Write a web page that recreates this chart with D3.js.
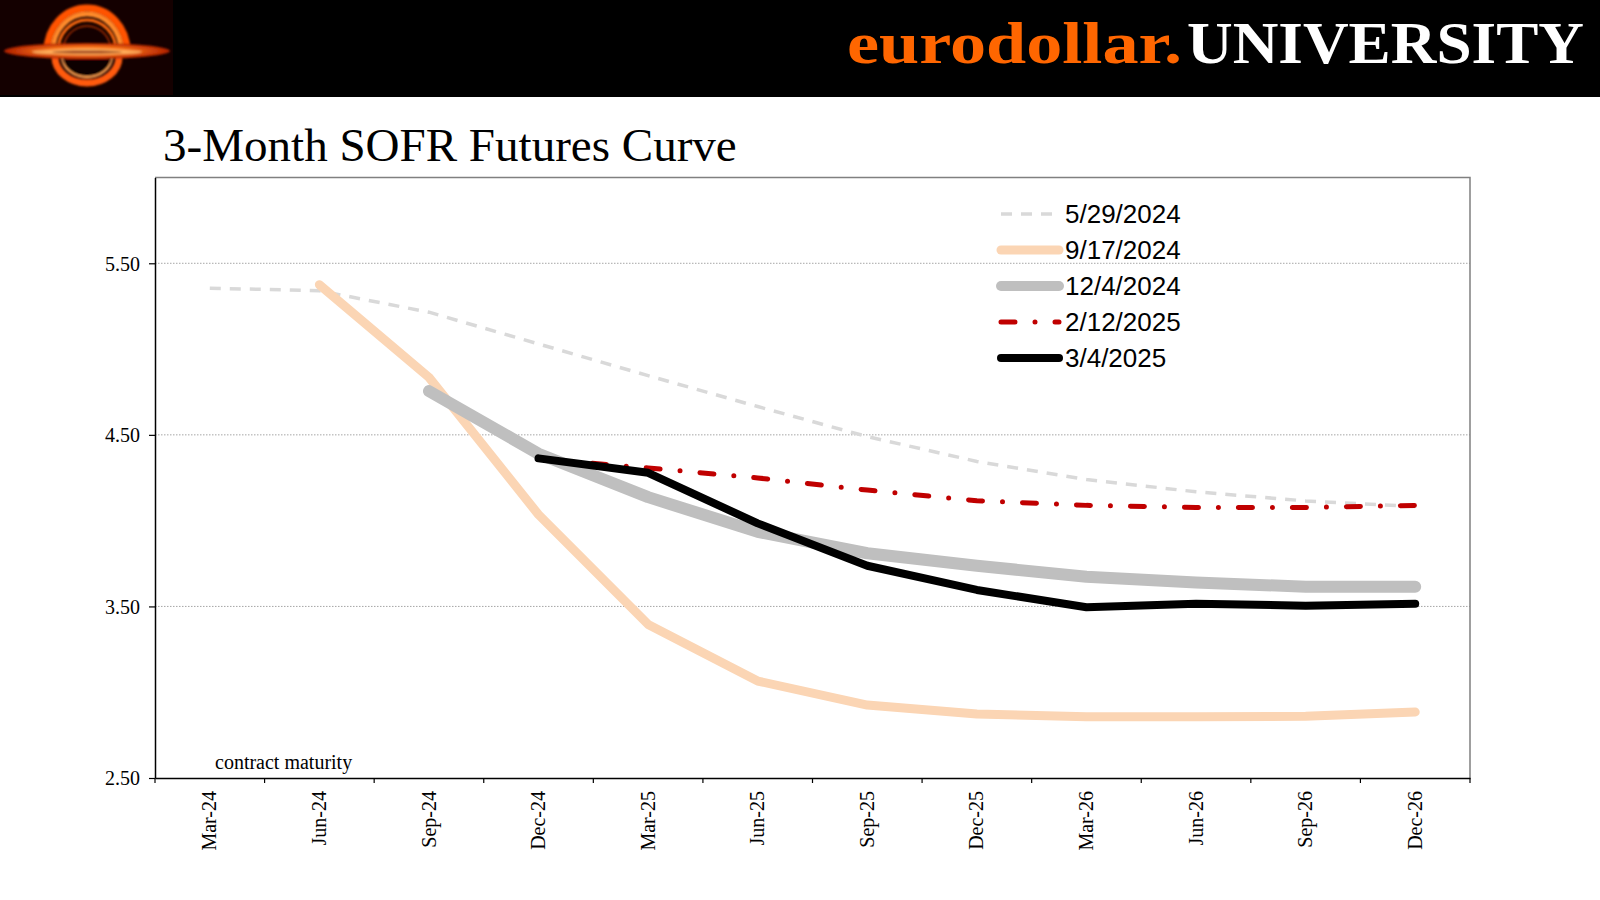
<!DOCTYPE html>
<html>
<head>
<meta charset="utf-8">
<script src="https://cdn.jsdelivr.net/npm/d3@7"></script>
<style>
  body { margin: 0; background: #fff; }
  svg { display: block; }
</style>
</head>
<body>
<div id="chart"></div>
<script>
// contract months on the x axis
const months = ["Mar-24", "Jun-24", "Sep-24", "Dec-24", "Mar-25", "Jun-25",
                "Sep-25", "Dec-25", "Mar-26", "Jun-26", "Sep-26", "Dec-26"];

// implied rates, one array per curve date (null = contract already expired)
const curve20240529 = [5.355, 5.340, 5.215, 5.030, 4.845, 4.665, 4.490, 4.345, 4.240, 4.168, 4.115, 4.082];
const curve20240917 = [null, 5.375, 4.835, 4.035, 3.395, 3.065, 2.925, 2.873, 2.857, 2.857, 2.860, 2.885];
const curve20241204 = [null, null, 4.755, 4.390, 4.137, 3.935, 3.810, 3.737, 3.673, 3.640, 3.615, 3.615];
const curve20250212 = [null, null, null, 4.360, 4.307, 4.249, 4.178, 4.116, 4.089, 4.077, 4.077, 4.089];
const curve20250304 = [null, null, null, 4.363, 4.279, 3.984, 3.737, 3.596, 3.495, 3.516, 3.504, 3.516];

const seriesNames = ["5/29/2024", "9/17/2024", "12/4/2024", "2/12/2025", "3/4/2025"];
const yTicks = [2.5, 3.5, 4.5, 5.5];

const series = [curve20240529, curve20240917, curve20241204, curve20250212, curve20250304]
    .map((values, i) => ({ name: seriesNames[i], values }));

// line looks (Excel-ish)
const looks = {
    "5/29/2024": { color: "#d9d9d9", width: 3.5, dash: "11,9", cap: "butt" },
    "9/17/2024": { color: "#fbd5b4", width: 9, dash: null, cap: "round" },
    "12/4/2024": { color: "#bfbfbf", width: 12, dash: null, cap: "round" },
    "2/12/2025": { color: "#c00000", width: 5, dash: "14,20,0,20", cap: "round" },
    "3/4/2025":  { color: "#000000", width: 8, dash: null, cap: "round" }
};

const width = 1600;
const height = 900;
const margin = { top: 177.5, right: 130, bottom: 122, left: 155 };

const svg = d3.select("#chart").append("svg")
    .attr("width", width)
    .attr("height", height);

const defs = svg.append("defs");

// ---- header band ----
svg.append("rect")
    .attr("width", width)
    .attr("height", 97)
    .attr("fill", "#000");

// logo: stylised black hole
const glow = defs.append("filter").attr("id", "glow")
    .attr("x", "-20%").attr("y", "-20%").attr("width", "140%").attr("height", "140%");
glow.append("feGaussianBlur").attr("stdDeviation", 1.3);

const discGrad = defs.append("radialGradient").attr("id", "disc");
discGrad.append("stop").attr("offset", "0%").attr("stop-color", "#ffd080");
discGrad.append("stop").attr("offset", "45%").attr("stop-color", "#ff7a1a");
discGrad.append("stop").attr("offset", "100%").attr("stop-color", "#b02000");

const logo = svg.append("g");
logo.append("rect").attr("width", 173).attr("height", 95).attr("fill", "#140000");

const cx = 87, cy = 51;
const g = logo.append("g").attr("filter", "url(#glow)");

// upper arch
[{ rx: 40, ry: 43, w: 7, c: "#ff5200" },
 { rx: 34, ry: 37, w: 5, c: "#ff8a2a" },
 { rx: 29, ry: 31, w: 3, c: "#ff6a10" },
 { rx: 24, ry: 25, w: 1.5, c: "#a83000" }].forEach(r => {
    g.append("path")
        .attr("d", `M${cx - r.rx},${cy} A${r.rx},${r.ry} 0 0 1 ${cx + r.rx},${cy}`)
        .attr("fill", "none")
        .attr("stroke", r.c)
        .attr("stroke-width", r.w);
});

// lower ring
g.append("ellipse").attr("cx", cx).attr("cy", 62).attr("rx", 22).attr("ry", 17).attr("fill", "#0a0000");
[{ rx: 32, ry: 26, w: 7, c: "#ff5a10" },
 { rx: 25, ry: 20, w: 2, c: "#ffa050" }].forEach(r => {
    g.append("path")
        .attr("d", `M${cx - r.rx},${cy + 6} A${r.rx},${r.ry} 0 0 0 ${cx + r.rx},${cy + 6}`)
        .attr("fill", "none")
        .attr("stroke", r.c)
        .attr("stroke-width", r.w);
});

// accretion disc
g.append("ellipse").attr("cx", cx).attr("cy", cy).attr("rx", 83).attr("ry", 8).attr("fill", "url(#disc)");
g.append("ellipse").attr("cx", cx).attr("cy", cy + 1).attr("rx", 55).attr("ry", 3).attr("fill", "#ffb868").attr("opacity", 0.8);
g.append("ellipse").attr("cx", cx).attr("cy", cy + 1).attr("rx", 35).attr("ry", 1.5).attr("fill", "#7a1800").attr("opacity", 0.7);

// brand text, two pieces fitted to the widths seen in the original
const brandFont = "'Liberation Serif', 'Times New Roman', serif";
svg.append("text")
    .attr("x", 847)
    .attr("y", 63)
    .attr("textLength", 335)
    .attr("lengthAdjust", "spacingAndGlyphs")
    .style("font-family", brandFont)
    .style("font-weight", "bold")
    .style("font-size", "59px")
    .attr("fill", "#ff6600")
    .text("eurodollar.");
svg.append("text")
    .attr("x", 1187)
    .attr("y", 63)
    .attr("textLength", 397)
    .attr("lengthAdjust", "spacingAndGlyphs")
    .style("font-family", brandFont)
    .style("font-weight", "bold")
    .style("font-size", "59px")
    .attr("fill", "#ffffff")
    .text("UNIVERSITY");

// chart title
const title = svg.append("text")
    .attr("x", 163)
    .attr("y", 161)
    .style("font-family", brandFont)
    .style("font-size", "47px")
    .attr("fill", "#000")
    .text("3-Month SOFR Futures Curve");
const tw = title.node().getComputedTextLength();
title.style("font-size", (47 * 574 / tw) + "px");

// ---- scales ----
const x = d3.scaleBand()
    .domain(months)
    .range([margin.left, width - margin.right]);

const y = d3.scaleLinear()
    .domain([2.5, 6.0])
    .range([height - margin.bottom, margin.top]);

const xc = m => x(m) + x.bandwidth() / 2;

// gridlines
svg.append("g")
    .selectAll("line")
    .data(yTicks.filter(d => d > 2.5))
    .join("line")
    .attr("x1", margin.left)
    .attr("x2", width - margin.right)
    .attr("y1", d => y(d))
    .attr("y2", d => y(d))
    .attr("stroke", "#a6a6a6")
    .attr("stroke-width", 1)
    .attr("stroke-dasharray", "1.5,1.5");

// top / right frame
svg.append("path")
    .attr("d", `M${margin.left},${margin.top} H${width - margin.right} V${height - margin.bottom}`)
    .attr("fill", "none")
    .attr("stroke", "#808080")
    .attr("stroke-width", 1.5);

// ---- series ----
const line = d3.line()
    .defined(d => d != null)
    .x((d, i) => xc(months[i]))
    .y(d => y(d));

svg.append("g")
    .selectAll("path")
    .data(series)
    .join("path")
    .attr("d", d => line(d.values))
    .attr("fill", "none")
    .attr("stroke", d => looks[d.name].color)
    .attr("stroke-width", d => looks[d.name].width)
    .attr("stroke-dasharray", d => looks[d.name].dash)
    .attr("stroke-linecap", d => looks[d.name].cap)
    .attr("stroke-linejoin", "round");

// ---- axes ----
const serif = brandFont;

const yAxis = svg.append("g")
    .attr("transform", `translate(${margin.left},0)`)
    .call(d3.axisLeft(y).tickValues(yTicks).tickFormat(d3.format(".2f")).tickSize(6).tickSizeOuter(0).tickPadding(9));
yAxis.select(".domain").attr("stroke", "#000").attr("stroke-width", 1.5);
yAxis.selectAll(".tick line").attr("stroke", "#000").attr("stroke-width", 1.2);
yAxis.selectAll(".tick text")
    .style("font-family", serif)
    .style("font-size", "20px")
    .attr("fill", "#000")
    .attr("dy", "0.34em");

const xAxis = svg.append("g")
    .attr("transform", `translate(0,${height - margin.bottom})`)
    .call(d3.axisBottom(x).tickSize(0).tickSizeOuter(0));
xAxis.select(".domain").attr("stroke", "#000").attr("stroke-width", 1.5);
xAxis.selectAll(".tick text")
    .attr("transform", "rotate(-90)")
    .attr("x", -13)
    .attr("y", 0)
    .attr("dy", "0.33em")
    .style("text-anchor", "end")
    .style("font-family", serif)
    .style("font-size", "20px")
    .attr("fill", "#000");

// tick marks between contract months
svg.append("g")
    .selectAll("line")
    .data(months.map(m => x(m)).concat([width - margin.right]))
    .join("line")
    .attr("x1", d => d)
    .attr("x2", d => d)
    .attr("y1", height - margin.bottom)
    .attr("y2", height - margin.bottom + 5)
    .attr("stroke", "#000")
    .attr("stroke-width", 1.2);

svg.append("text")
    .attr("x", 215)
    .attr("y", 769)
    .style("font-family", serif)
    .style("font-size", "20px")
    .attr("fill", "#000")
    .text("contract maturity");

// ---- legend ----
const legend = svg.append("g")
    .attr("transform", "translate(1001,214)");

series.forEach((d, i) => {
    const row = legend.append("g")
        .attr("transform", `translate(0,${i * 36})`);
    const lk = looks[d.name];

    row.append("line")
        .attr("x1", 0)
        .attr("x2", 58)
        .attr("stroke", lk.color)
        .attr("stroke-width", Math.min(lk.width, 10))
        .attr("stroke-dasharray", lk.dash)
        .attr("stroke-linecap", lk.cap);

    row.append("text")
        .attr("x", 64)
        .attr("y", 0)
        .attr("dy", "0.36em")
        .style("font-family", "'Liberation Sans', Arial, sans-serif")
        .style("font-size", "26px")
        .attr("fill", "#000")
        .text(d.name);
});
</script>
</body>
</html>
